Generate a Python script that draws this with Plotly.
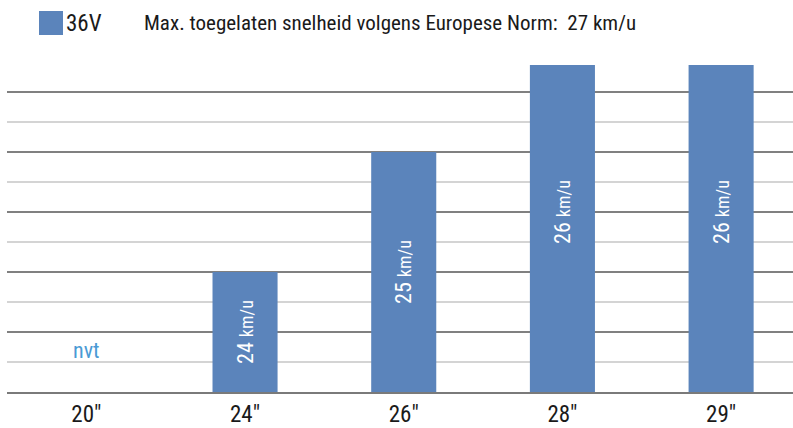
import plotly.graph_objects as go

categories = ["20″", "24″", "26″", "28″", "29″"]
speeds = [None, 24, 25, 26, 26]
series_name = "36V"
title_text = "Max. toegelaten snelheid volgens Europese Norm:  27 km/u"
na_label = "nvt"
axis_min = 23

FONT = "Roboto Condensed, Roboto, sans-serif"
BAR = "#5b84bb"

labels = [
    "" if v is None else f"{v} <span style='font-size:18px'>km/u</span>"
    for v in speeds
]

fig = go.Figure()
fig.add_trace(go.Bar(
    x=categories, y=[None if v is None else v - axis_min for v in speeds],
    base=axis_min, name=series_name,
    marker=dict(color=BAR, line=dict(width=0)),
    width=0.41,
    text=labels, textposition="inside", insidetextanchor="middle",
    textangle=-90, textfont=dict(color="white", size=22, family=FONT),
    showlegend=False, cliponaxis=True,
))

# "nvt" label for the missing category
fig.add_annotation(x=categories[0], y=axis_min + 0.35, text=na_label, showarrow=False,
                   font=dict(color="#4a9ad4", size=22, family=FONT))

fig.update_layout(
    width=793, height=428,
    margin=dict(l=7, r=0, t=65, b=36),
    paper_bgcolor="white", plot_bgcolor="white",
    font=dict(family=FONT, color="#1a1a1a"),
    xaxis=dict(range=[-0.5, 4.453], showline=True, linecolor="#7a7a7a", linewidth=2,
               ticks="", tickfont=dict(size=23, color="#1a1a1a"), showgrid=False),
    yaxis=dict(range=[axis_min, 25.725], showticklabels=False, ticks="",
               dtick=0.5, tick0=axis_min, gridcolor="#808080", gridwidth=2,
               zeroline=False,
               minor=dict(dtick=0.25, tick0=axis_min, showgrid=True,
                          gridcolor="#d4d4d4", gridwidth=1.5)),
)

H = 327.0
def py(p):  # window pixel y -> paper y
    return (392 - p) / H
def px(p):
    return (p - 7) / 786.0

fig.add_shape(type="rect", xref="paper", yref="paper",
              x0=px(39), x1=px(63), y0=py(35), y1=py(11),
              line=dict(width=0), fillcolor=BAR)
fig.add_annotation(xref="paper", yref="paper", x=px(64), y=py(23), xanchor="left",
                   yanchor="middle", text=series_name, showarrow=False,
                   font=dict(size=23, color="#1a1a1a", family=FONT))
fig.add_annotation(xref="paper", yref="paper", x=px(142), y=py(23), xanchor="left",
                   yanchor="middle", text=title_text, showarrow=False,
                   font=dict(size=21, color="#1a1a1a", family=FONT))

fig.write_html("out.html", config={"displayModeBar": False},
               post_script="document.body.style.margin='0';")
